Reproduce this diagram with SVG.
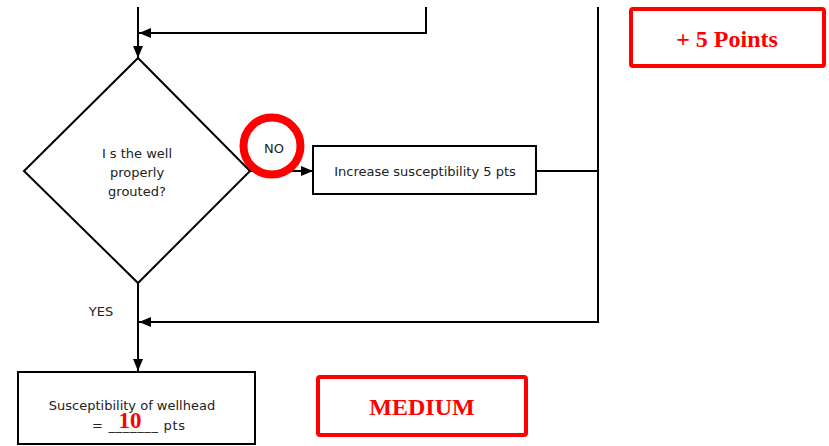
<svg xmlns="http://www.w3.org/2000/svg" width="829" height="446" viewBox="0 0 829 446">
<style>
.ln{stroke:#000;stroke-width:2;fill:none}
.box{stroke:#000;stroke-width:2;fill:#fff}
.t{font-family:"DejaVu Sans",Verdana,sans-serif;font-size:13px;fill:#222;text-anchor:middle}
.red{stroke:#f00;stroke-width:4;fill:#fff}
.rt{font-family:"Liberation Serif","Times New Roman",serif;font-weight:bold;font-size:24px;fill:#f00;text-anchor:middle}
</style>
<defs>
<marker id="ah" viewBox="0 0 12 10" refX="12" refY="5" markerWidth="12" markerHeight="10" markerUnits="userSpaceOnUse" orient="auto">
<path d="M0,0 L12,5 L0,10 Z" fill="#000"/>
</marker>
</defs>
<g id="connectors">
<line class="ln" x1="138" y1="7" x2="138" y2="58" marker-end="url(#ah)"/>
<polyline class="ln" points="426,7 426,33 139,33" marker-end="url(#ah)"/>
<line class="ln" x1="250" y1="171" x2="313" y2="171" marker-end="url(#ah)"/>
<line class="ln" x1="536" y1="171" x2="598" y2="171"/>
<polyline class="ln" points="598,7 598,322 139,322" marker-end="url(#ah)"/>
<line class="ln" x1="138" y1="283" x2="138" y2="371" marker-end="url(#ah)"/>
<text class="t" x="101" y="316">YES</text>
</g>
<g id="decision">
<polygon class="box" points="138,58 250,171 138,283 24,171"/>
<text class="t" x="137" y="158">I s the well</text>
<text class="t" x="137" y="177">properly</text>
<text class="t" x="137" y="196">grouted?</text>
</g>
<g id="no-mark">
<circle cx="272" cy="146" r="28.5" fill="#fff" stroke="#f00" stroke-width="8"/>
<text class="t" x="274" y="153">NO</text>
</g>
<g id="increase">
<rect class="box" x="313" y="146" width="223" height="48"/>
<text class="t" x="425" y="176">Increase susceptibility 5 pts</text>
</g>
<g id="points">
<rect class="red" x="631" y="9" width="193" height="57" rx="2"/>
<text class="rt" x="727" y="47">+ 5 Points</text>
</g>
<g id="result">
<rect class="box" x="18" y="372" width="237" height="72"/>
<text class="t" x="132" y="410">Susceptibility of wellhead</text>
<text class="t" x="92" y="430" style="text-anchor:start" textLength="93">= _______ pts</text>
<text class="rt" x="130" y="428" style="font-size:23px">10</text>
</g>
<g id="medium">
<rect class="red" x="318" y="377" width="208" height="58" rx="2"/>
<text class="rt" x="422" y="415">MEDIUM</text>
</g>
</svg>
